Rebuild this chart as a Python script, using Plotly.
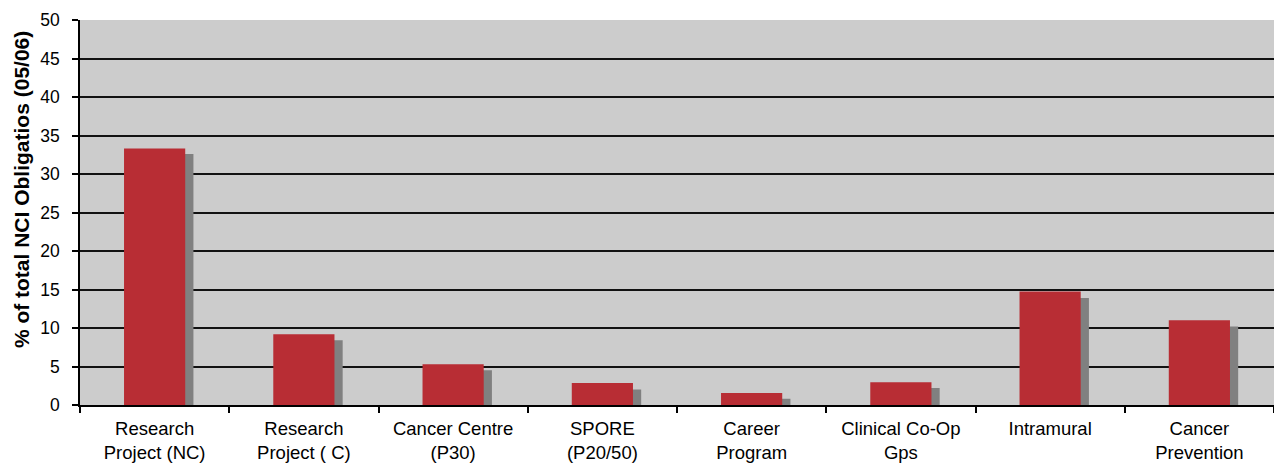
import plotly.graph_objects as go

categories = ["Research<br>Project (NC)", "Research<br>Project ( C)", "Cancer Centre<br>(P30)",
              "SPORE<br>(P20/50)", "Career<br>Program", "Clinical Co-Op<br>Gps",
              "Intramural", "Cancer<br>Prevention"]
values = [33.3, 9.2, 5.3, 2.85, 1.55, 2.95, 14.75, 11.0]
shadow_values = [32.6, 8.4, 4.5, 2.0, 0.8, 2.2, 13.9, 10.2]
y_ticks = [0, 5, 10, 15, 20, 25, 30, 35, 40, 45, 50]

RED = "#b82d34"
GRAY = "#808080"
FONT = "Liberation Sans, Arial, sans-serif"

fig = go.Figure()
fig.add_trace(go.Bar(x=categories, y=shadow_values, marker=dict(color=GRAY, line=dict(width=0)),
                     width=0.41, offset=-0.15, hoverinfo="skip"))
fig.add_trace(go.Bar(x=categories, y=values, marker=dict(color=RED, line=dict(width=0)),
                     width=0.41, offset=-0.205))

fig.update_layout(
    width=1274, height=463,
    margin=dict(l=80, r=0, t=20, b=56),
    paper_bgcolor="white", plot_bgcolor="#cccccc",
    barmode="overlay", showlegend=False,
    font=dict(family=FONT, size=18, color="black"),
)
fig.update_xaxes(type="category", tickson="boundaries", ticks="outside", ticklen=6,
                 tickcolor="black", tickwidth=1.5, showline=True, linecolor="black", linewidth=1.5,
                 showgrid=False, tickfont=dict(size=18.5), range=[-0.5, 7.5], ticklabelstandoff=6)
fig.update_yaxes(range=[0, 50], tickvals=y_ticks, ticks="outside", ticklen=6, tickcolor="black",
                 tickwidth=1.5, showline=True, linecolor="black", linewidth=1.5,
                 showgrid=True, gridcolor="#111111", gridwidth=1.5, zeroline=False,
                 tickfont=dict(size=17.5), ticklabelstandoff=9)
fig.add_annotation(text="<b>% of total NCI Obligatios (05/06)</b>", textangle=-90,
                   xref="paper", yref="paper", x=(21 - 80) / 1194, y=(407 - 191) / 387,
                   xanchor="center", yanchor="middle", showarrow=False,
                   font=dict(family=FONT, size=21, color="black"))

fig.write_html("out.html", config={"displayModeBar": False},
               post_script="document.body.style.margin='0px';")
